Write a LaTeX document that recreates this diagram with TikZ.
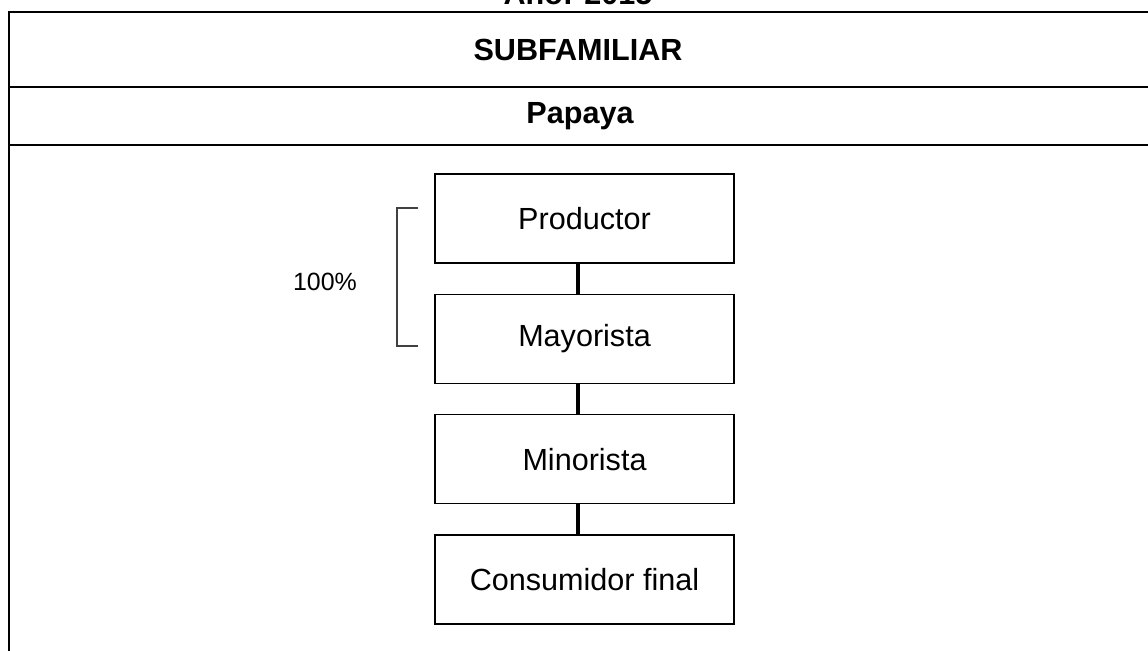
\documentclass[tikz,border=0pt]{standalone}
\usepackage{fontspec}
\setmainfont{Liberation Sans}
\usetikzlibrary{positioning}

\tikzset{
    marco/.style={line width=1.2pt},
    eslabon/.style={draw, line width=0.8pt, minimum width=5.98cm, minimum height=1.78cm,
        font=\fontsize{17.4}{20}\selectfont},
    union/.style={line width=2.7pt},
    llave/.style={draw=black!75, line width=0.6pt},
    titulo/.style={font=\fontsize{17.4}{20}\selectfont\bfseries}
}

\begin{document}
\begin{tikzpicture}[x=0.02cm, y=-0.02cm, node distance=0.6cm]
    \useasboundingbox (0,0) rectangle (1148,650);
    % cuadro
    \coordinate (esq) at (9,12);
    \draw[marco] (8,12) -- (1150,12);
    \draw[marco] (8,87) -- (1150,87);
    \draw[marco] (8,145) -- (1150,145);
    \draw[marco] (esq) -- (9,652);
    \node[titulo, anchor=base] (anio) at (578,4) {Año: 2015};
    \node[titulo] (sub) at (578,50) {SUBFAMILIAR};
    \node[titulo] (fruta) at (580,116) {Papaya};
    % cadena
    \node[eslabon] (prod) at (584.5,218.5) {Productor};
    \node[eslabon, below =of prod] (may) {Mayorista};
    \node[eslabon, below =of may] (min) {Minorista};
    \node[eslabon, below =of min] (cons) {Consumidor final};
    \foreach \a/\b in {prod/may, may/min, min/cons}
        \draw[union] ([xshift=-0.13cm]\a.south) -- ([xshift=-0.13cm]\b.north);
    % porcentaje
    \coordinate (ll1) at (418,208);
    \coordinate (ll2) at (418,346);
    \draw[llave] (ll1) -- (397,208) -- (397,346) -- (ll2);
    \node[font=\fontsize{14.2}{16}\selectfont] (pct) at (325,282) {100\%};
\end{tikzpicture}
\end{document}
